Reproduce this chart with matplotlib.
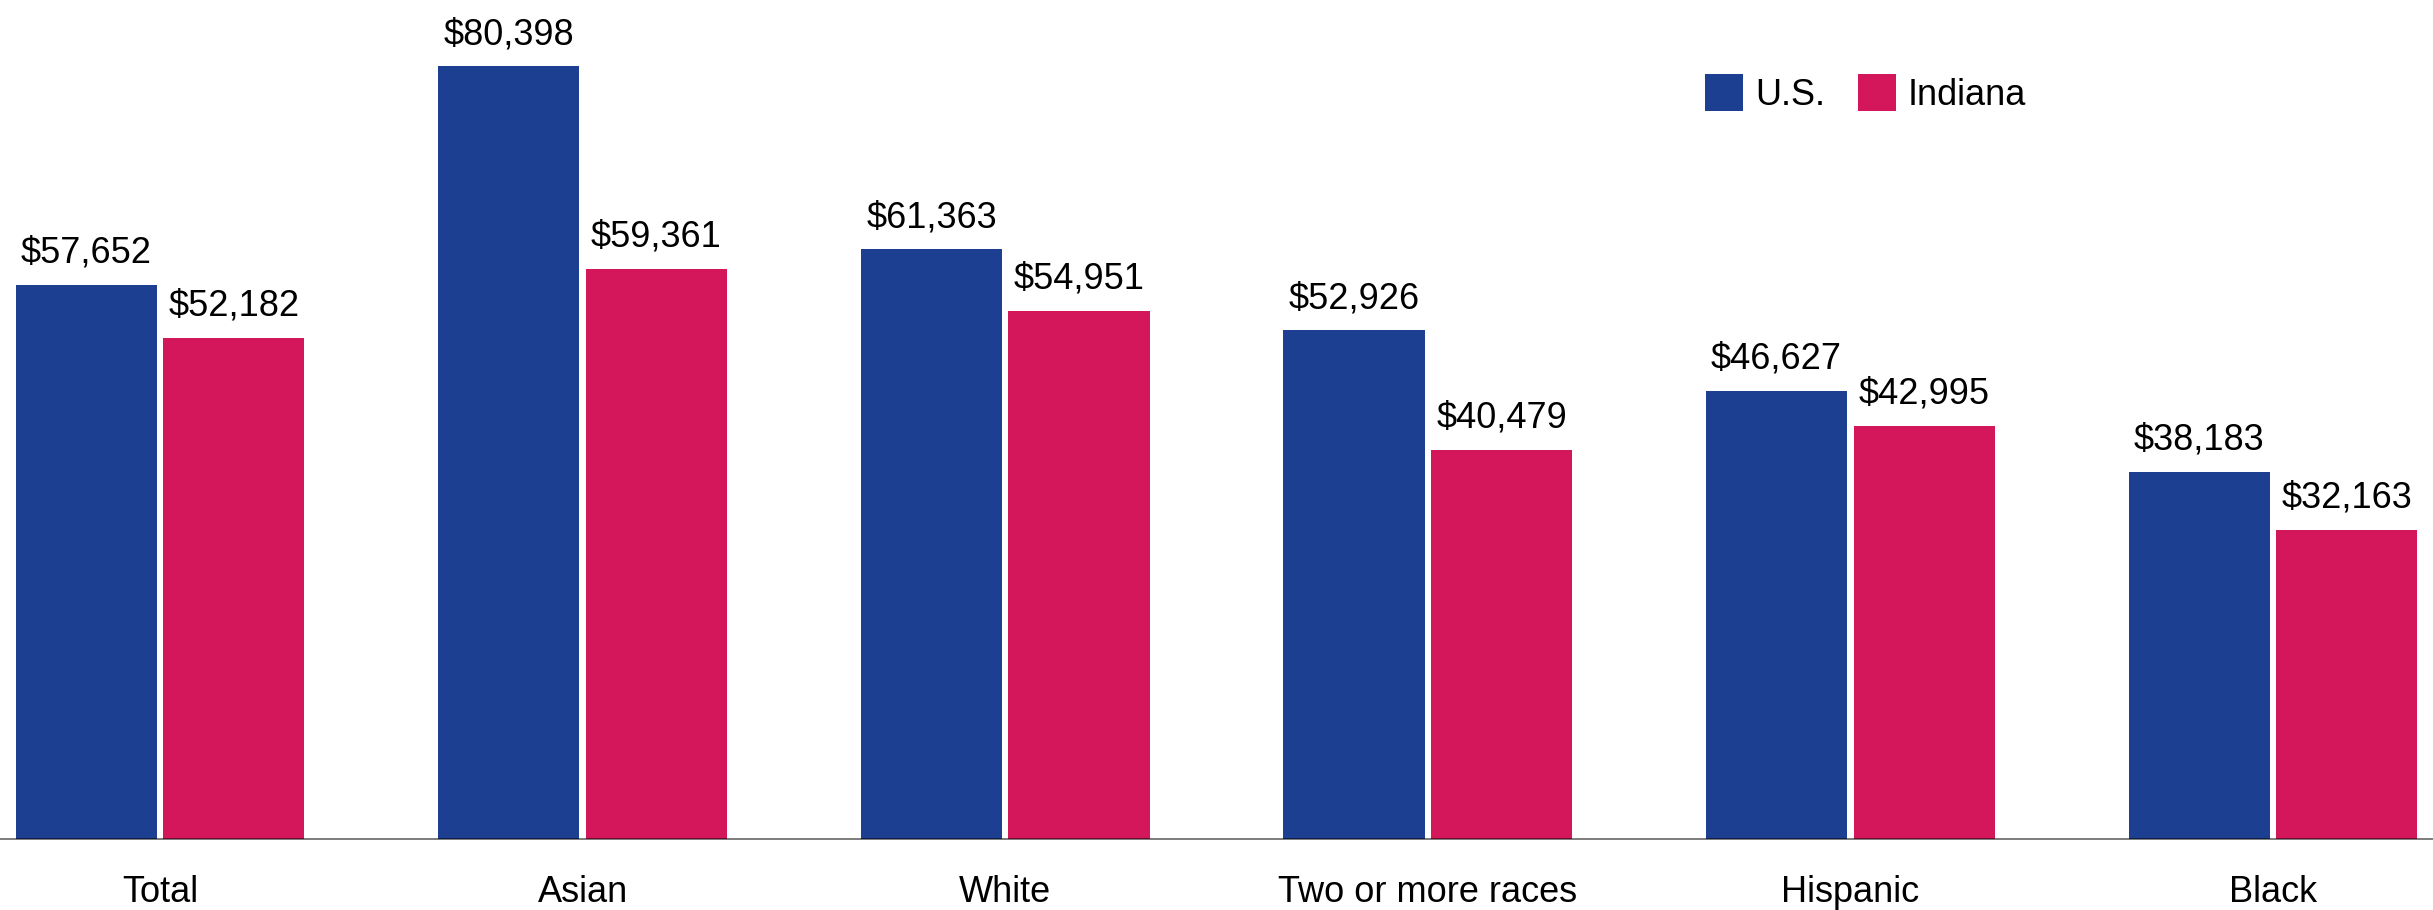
import matplotlib
matplotlib.use("Agg")
import matplotlib.pyplot as plt
import numpy as np

plt.rcParams['font.family'] = ['Liberation Sans', 'DejaVu Sans']

categories = ['Total', 'Asian', 'White', 'Two or more races', 'Hispanic', 'Black']
us_income = [57652, 80398, 61363, 52926, 46627, 38183]
indiana_income = [52182, 59361, 54951, 40479, 42995, 32163]

blue = '#1c3f91'
red = '#d4175a'

W, H, dpi = 2433, 910, 100
fig = plt.figure(figsize=(W / dpi, H / dpi), dpi=dpi)
ax = fig.add_axes([0, 71 / H, 1, 839 / H])

x = np.arange(len(categories))
w = 0.334
off = 0.1746
b1 = ax.bar(x - off, us_income, w, color=blue, label='U.S.')
b2 = ax.bar(x + off, indiana_income, w, color=red, label='Indiana')

for bars in (b1, b2):
    for bar in bars:
        v = bar.get_height()
        ax.annotate(f'${v:,.0f}', (bar.get_x() + bar.get_width() / 2, v),
                    xytext=(0, 16), textcoords='offset points',
                    ha='center', va='baseline', fontsize=26)

ax.set_xlim(-0.379, 5.379)
ax.set_ylim(0, 87300)
ax.set_xticks(x)
ax.set_xticklabels(categories, fontsize=26)
ax.tick_params(axis='x', length=0, pad=26)
ax.set_yticks([])
for s in ['top', 'left', 'right']:
    ax.spines[s].set_visible(False)
ax.spines['bottom'].set_color('black')
ax.spines['bottom'].set_alpha(0.5)
ax.spines['bottom'].set_linewidth(1.44)

ax.legend(loc='upper left', bbox_to_anchor=(1705 / W, 1 - 74 / H),
          bbox_transform=fig.transFigure, ncol=2, frameon=False,
          fontsize=26, handlelength=1.05, handleheight=1.2,
          handletextpad=0.33, columnspacing=0.92,
          borderpad=0, borderaxespad=0)

fig.savefig('out.png', dpi=dpi)
